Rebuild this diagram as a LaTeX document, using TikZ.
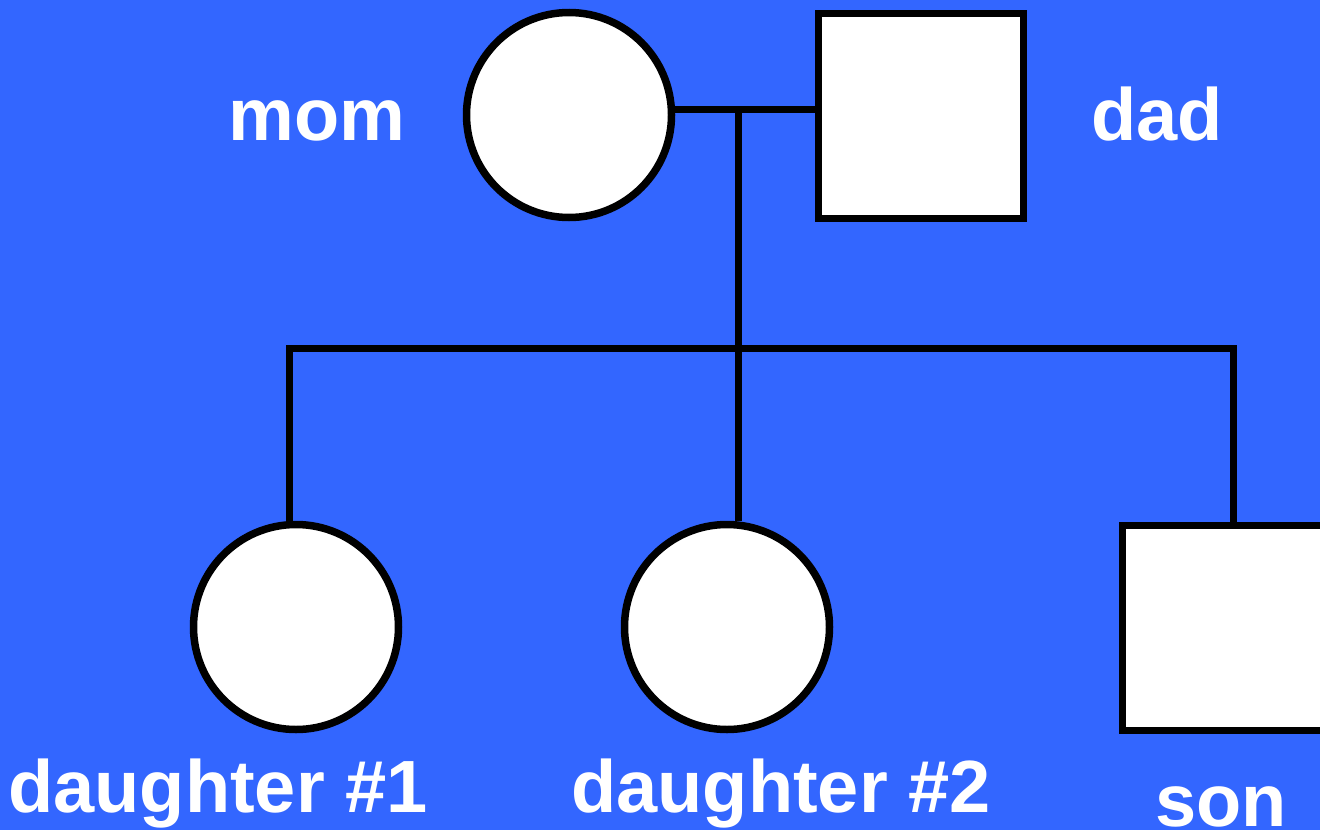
\documentclass[tikz,border=0pt]{standalone}
\usepackage{fontspec}
\setmainfont{Liberation Sans}
\definecolor{bgblue}{HTML}{3366FF}
\tikzset{
  person/.style={draw=black, fill=white, line width=7.5pt, inner sep=0pt, minimum size=205pt},
  female/.style={person, circle},
  male/.style={person, rectangle},
  lbl/.style={text=white, font=\bfseries\fontsize{74}{80}\selectfont, inner sep=0pt, anchor=base},
  link/.style={draw=black, line width=7pt, line join=miter}
}
\begin{document}
\begin{tikzpicture}[x=1pt,y=-1pt]
\useasboundingbox (0,0) rectangle (1320,830);
\clip (0,0) rectangle (1320,830);
\fill[bgblue] (0,0) rectangle (1320,830);
% parents
\node[female] (mom) at (569,115) {};
\node[male] (dad) at (921,116) {};
% children
\node[female] (d1) at (296,627) {};
\node[female] (d2) at (727,627) {};
\node[male] (son) at (1225,628) {};
% labels
\node[lbl] (lmom) at (317,140) {mom};
\node[lbl] (ldad) at (1157,140) {dad};
\node[lbl] (ld1) at (218,812) {daughter \#1};
\node[lbl] (ld2) at (781,812) {daughter \#2};
\node[lbl] (lson) at (1221,826) {son};
% connectors
\coordinate (j1) at (738,109);
\coordinate (j2) at (738,348);
\coordinate (b1) at (289,348);
\coordinate (b3) at (1233,348);
\draw[link] (mom.east |- j1) -- (dad.west |- j1);
\draw[link] (j1) -- (j2);
\draw[link] (b1 |- d1.north) -- (b1) -- (b3) -- (b3 |- son.north);
\draw[link] (j2) -- (j2 |- d2.north);
\end{tikzpicture}
\end{document}
